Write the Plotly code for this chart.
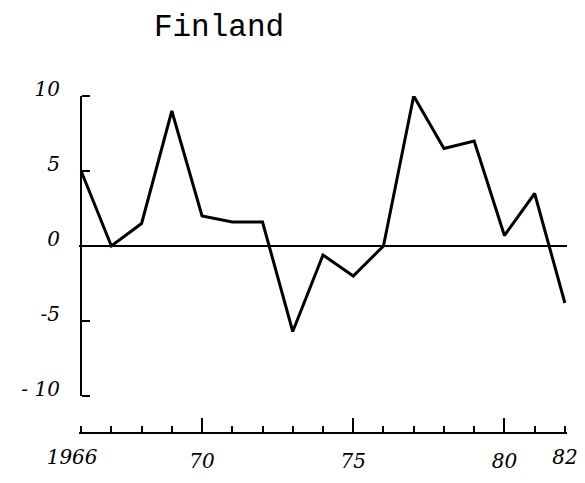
import plotly.graph_objects as go

years = list(range(1966, 1983))
values = [5, 0, 1.5, 9, 2, 1.6, 1.6, -5.7, -0.6, -2, 0, 10, 6.5, 7, 0.7, 3.5, -3.8]

y_tickvals = [10, 5, 0, -5, -10]
y_ticktext = ["10", "5", "0", "-5", "- 10"]
x_major_vals = [1970, 1975, 1980]
x_major_text = ["70", "75", "80"]
x_start_vals = [1966]
x_start_text = ["1966"]
x_end_vals = [1982]
x_end_text = ["82"]

hand = dict(family="DejaVu Serif", size=20, color="black", style="italic")
x_range = [1965.93, 1982.07]
y_range = [-10, 10]
y_domain = [37 / 337, 1]

fig = go.Figure()
fig.add_trace(go.Scatter(x=years, y=values, mode="lines",
                         line=dict(color="black", width=3), hoverinfo="skip",
                         showlegend=False))
for xa, ya in (("x2", "y2"), ("x3", "y2")):
    fig.add_trace(go.Scatter(x=years, y=values, mode="lines", xaxis=xa, yaxis=ya,
                             line=dict(color="rgba(0,0,0,0)", width=0),
                             hoverinfo="skip", showlegend=False))

label_axis = dict(range=x_range, overlaying="x", anchor="free", position=0,
                  side="bottom", showline=False, showgrid=False, zeroline=False,
                  automargin=False, ticks="", tickfont=hand, ticklabelstandoff=10)

# page body has an 8px offset; margins compensate
fig.update_layout(
    width=585, height=483,
    margin=dict(l=71, r=26, t=88, b=58, autoexpand=False),
    paper_bgcolor="white", plot_bgcolor="white",
    title=dict(text="Finland", x=211 / 585, xanchor="center", y=1 - 17 / 483, yanchor="middle",
               font=dict(family="Liberation Mono", size=31, color="black")),
    xaxis=dict(range=x_range, anchor="free", position=0, showline=True,
               linecolor="black", linewidth=2, showgrid=False, zeroline=False,
               automargin=False,
               ticks="inside", ticklen=14, tickwidth=2, tickcolor="black",
               tickvals=x_major_vals, ticktext=x_major_text, tickfont=hand,
               ticklabelstandoff=10,
               minor=dict(dtick=1, tick0=1966, ticks="inside", ticklen=6,
                          tickwidth=2, tickcolor="black", showgrid=False)),
    xaxis2=dict(label_axis, tickvals=x_start_vals, ticktext=x_start_text,
                ticklabelshift=-9),
    xaxis3=dict(label_axis, tickvals=x_end_vals, ticktext=x_end_text),
    yaxis=dict(range=y_range, domain=y_domain, anchor="free", position=0.004,
               showline=True, linecolor="black", linewidth=2, showgrid=False,
               automargin=False,
               zeroline=True, zerolinecolor="black", zerolinewidth=2,
               ticks="", tickvals=y_tickvals, ticktext=y_ticktext, tickfont=hand,
               ticklabelstandoff=16, ticklabelshift=-7),
    yaxis2=dict(range=y_range, domain=y_domain, overlaying="y", side="right",
                anchor="free", position=0.004, showline=False, showgrid=False,
                zeroline=False, automargin=False, showticklabels=False,
                ticks="outside", ticklen=8, tickwidth=2, tickcolor="black",
                tickvals=y_tickvals),
)

fig.write_html("out.html")
